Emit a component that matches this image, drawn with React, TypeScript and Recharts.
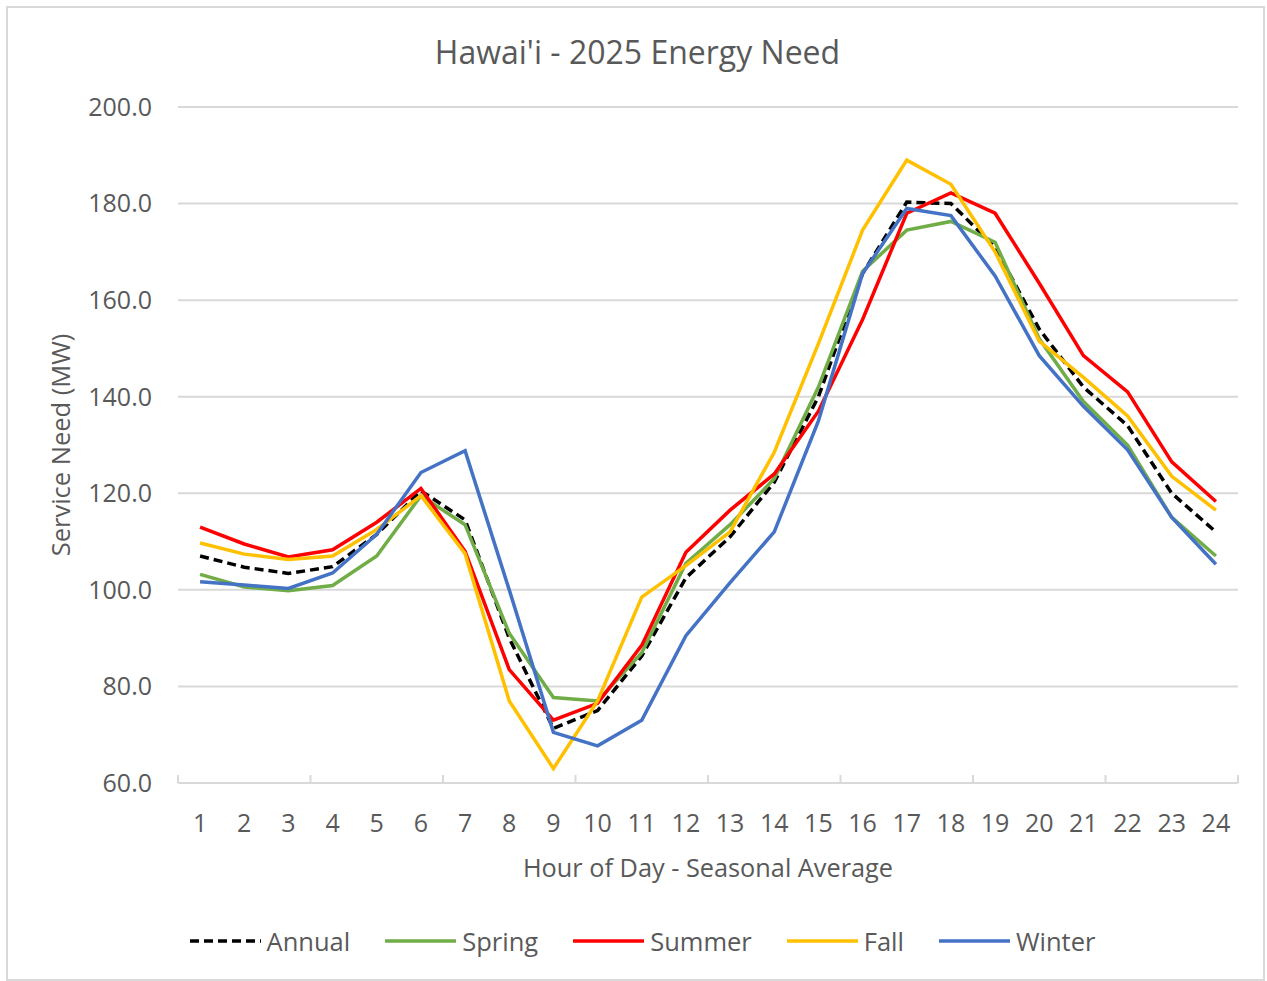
import { LineChart, Line, XAxis, YAxis, CartesianGrid, Label } from 'recharts';

const hours = [1, 2, 3, 4, 5, 6, 7, 8, 9, 10, 11, 12, 13, 14, 15, 16, 17, 18, 19, 20, 21, 22, 23, 24];

const annual = [107, 104.7, 103.4, 104.8, 111.5, 120.5, 114.5, 90, 71.3, 75, 86.3, 102.5, 111, 122.3, 140, 165.5, 180.3, 180, 171, 154, 142, 134, 120, 112];
const spring = [103.2, 100.6, 99.8, 100.9, 107, 119.5, 113.5, 91, 77.7, 77, 87, 105.5, 113.5, 123, 142, 166, 174.5, 176.3, 172, 152, 139, 130, 115, 107];
const summer = [113, 109.5, 106.8, 108.3, 114, 121, 108, 83.5, 73, 76.5, 88.5, 107.8, 116.5, 124, 137, 156, 178, 182.2, 178, 163.5, 148.5, 141, 126.5, 118.3];
const fall = [109.7, 107.4, 106.3, 107, 112.5, 119.5, 107.5, 77, 63, 77, 98.5, 105, 112, 128.5, 151, 174.5, 189, 184, 170, 151.5, 144, 136, 123.5, 116.5];
const winter = [101.7, 101, 100.3, 103.5, 111.5, 124.3, 128.8, 100, 70.5, 67.7, 73, 90.5, 101.5, 112, 135, 165.5, 179, 177.5, 165, 148.5, 138, 129, 115, 105.3];

const yTicks = [60, 80, 100, 120, 140, 160, 180, 200];
const xMarks = [0.5, 3.5, 6.5, 9.5, 12.5, 15.5, 18.5, 21.5, 24.5];

const series = [
  { name: 'Annual', values: annual, color: '#000000', dash: '9 5' },
  { name: 'Spring', values: spring, color: '#70AD47', dash: undefined },
  { name: 'Summer', values: summer, color: '#FF0000', dash: undefined },
  { name: 'Fall', values: fall, color: '#FFC000', dash: undefined },
  { name: 'Winter', values: winter, color: '#4472C4', dash: undefined },
];

const data = hours.map((h, i) => {
  const row: Record<string, number> = { hour: h };
  series.forEach((s) => {
    row[s.name] = s.values[i];
  });
  return row;
});

const textColor = '#595959';
const gridColor = '#D9D9D9';

function HourTick({ x, y, payload }: any) {
  const v = payload.value;
  if (!Number.isInteger(v)) {
    return <line x1={x} x2={x} y1={y} y2={y - 8} stroke={gridColor} strokeWidth={2} />;
  }
  return (
    <text x={x} y={y + 39} textAnchor="middle" dominantBaseline="central" fill={textColor} fontSize={25}>
      {v}
    </text>
  );
}

function YLabel({ viewBox }: any) {
  const cy = viewBox.y + viewBox.height / 2;
  return (
    <text x={60} y={cy} transform={`rotate(-90 60 ${cy})`} textAnchor="middle" dominantBaseline="central" fill={textColor} fontSize={25.5}>
      Service Need (MW)
    </text>
  );
}

function LegendRow() {
  return (
    <div style={{ position: 'absolute', top: 924, left: 9, width: 1267, display: 'flex', justifyContent: 'center', alignItems: 'center' }}>
      {series.map((s, i) => (
        <div key={s.name} style={{ display: 'flex', alignItems: 'center', marginRight: i < series.length - 1 ? 35 : 0 }}>
          <svg width={71} height={10} style={{ marginRight: 6 }}>
            <line x1={0} x2={71} y1={5} y2={5} stroke={s.color} strokeWidth={3.5} strokeDasharray={s.dash} />
          </svg>
          <span style={{ fontSize: 25.5, color: textColor, lineHeight: '34px' }}>{s.name}</span>
        </div>
      ))}
    </div>
  );
}

export default function App() {
  return (
    <div style={{ position: 'absolute', left: 0, top: 0, width: 1267, height: 981, background: '#fff', fontFamily: '"Open Sans", sans-serif' }}>
      <div style={{ position: 'absolute', left: 6, top: 6, width: 1259, height: 975, border: `2px solid ${gridColor}`, boxSizing: 'border-box' }} />
      <div style={{ position: 'absolute', left: 8, top: 30, width: 1259, textAlign: 'center', fontSize: 32, color: textColor, lineHeight: '44px' }}>
        Hawai'i - 2025 Energy Need
      </div>
      <div style={{ position: 'absolute', left: 0, top: 0 }}>
        <LineChart width={1267} height={981} data={data} margin={{ top: 107, right: 29, bottom: 98, left: 48 }}>
          <CartesianGrid vertical={false} stroke={gridColor} strokeWidth={2} />
          <XAxis
            dataKey="hour"
            type="number"
            domain={[0.5, 24.5]}
            ticks={[...hours, ...xMarks]}
            interval={0}
            height={100}
            tickSize={0}
            tickMargin={0}
            tickLine={false}
            axisLine={{ stroke: gridColor, strokeWidth: 2 }}
            tick={<HourTick />}
          >
            <Label value="Hour of Day - Seasonal Average" position="insideBottom" offset={6} fill={textColor} fontSize={25.3} />
          </XAxis>
          <YAxis
            type="number"
            domain={[60, 200]}
            ticks={yTicks}
            width={130}
            axisLine={false}
            tickLine={false}
            tickSize={0}
            tickMargin={26}
            tickFormatter={(v: number) => v.toFixed(1)}
            tick={{ fill: textColor, fontSize: 25 }}
          >
            <Label content={<YLabel />} />
          </YAxis>
          {series.map((s) => (
            <Line
              key={s.name}
              type="linear"
              dataKey={s.name}
              stroke={s.color}
              strokeWidth={3.5}
              strokeDasharray={s.dash}
              dot={false}
              activeDot={false}
              isAnimationActive={false}
            />
          ))}
        </LineChart>
      </div>
      <LegendRow />
    </div>
  );
}
